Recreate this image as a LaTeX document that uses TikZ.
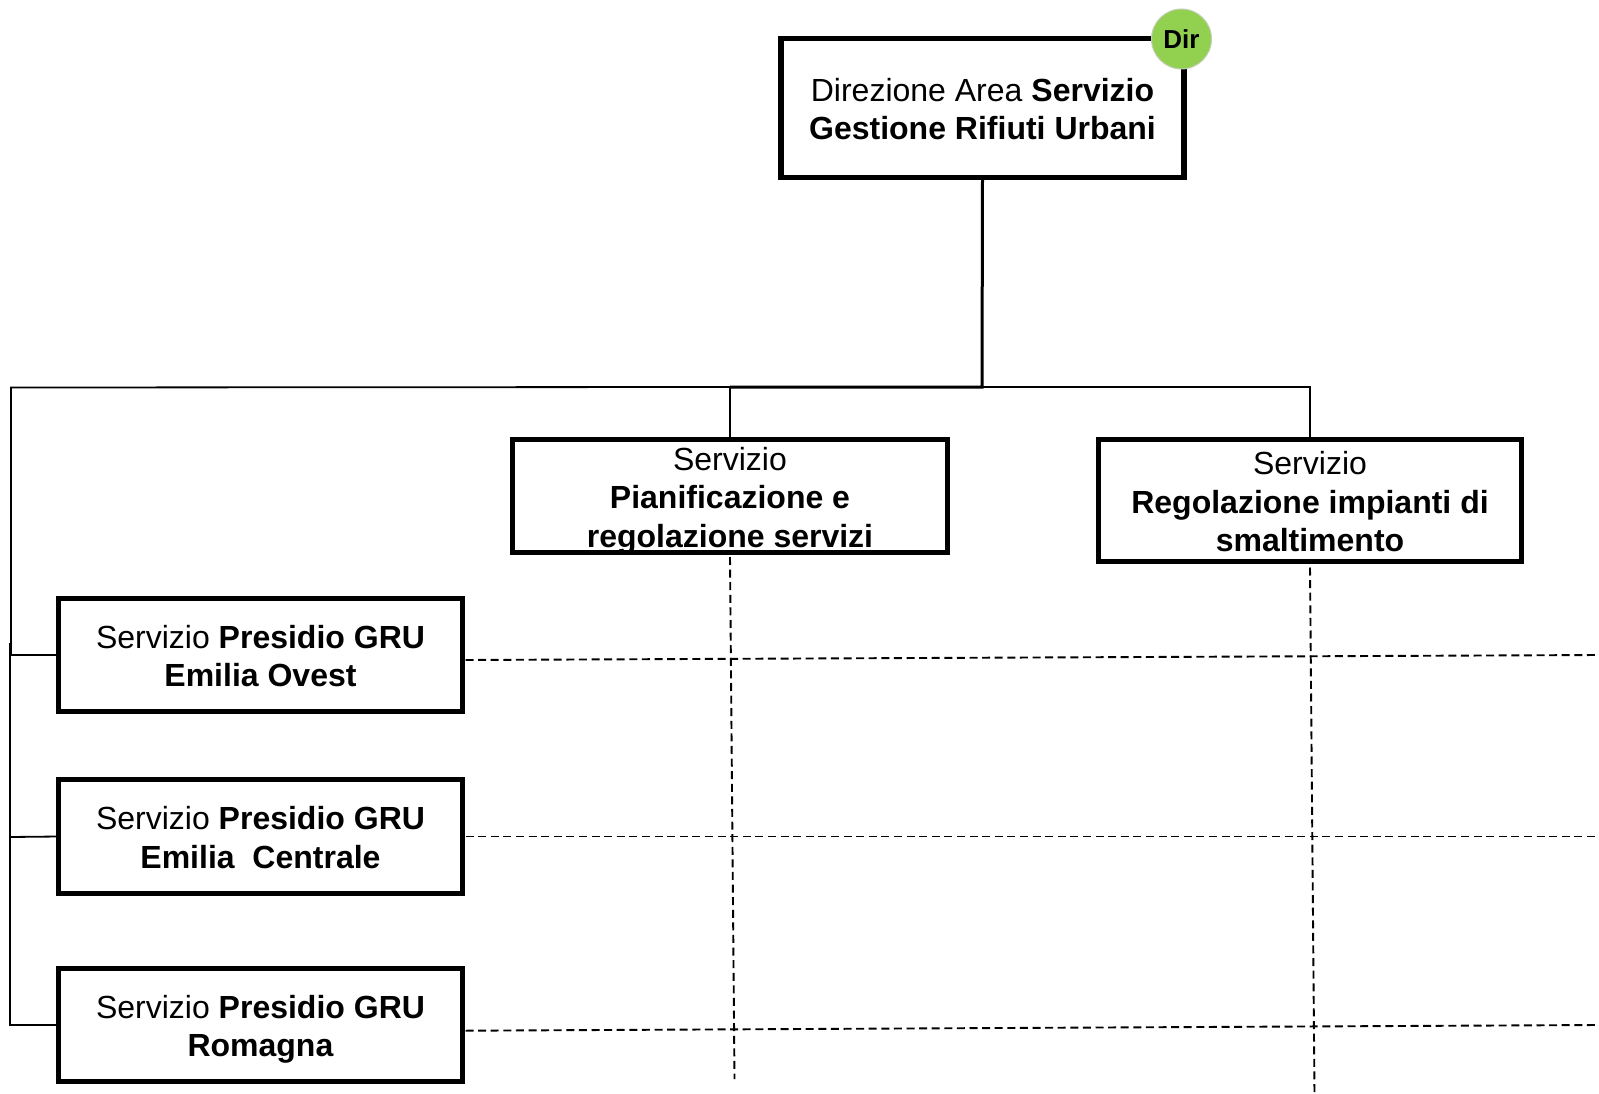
\documentclass[tikz,border=0pt]{standalone}
\usepackage{fontspec}
\setmainfont{Liberation Sans}
\definecolor{dirgreen}{HTML}{92D050}
\definecolor{dirrim}{HTML}{C4CFB8}
\newcommand\boxlines[1]{\begin{tabular}{@{}c@{}}#1\end{tabular}}
\tikzset{
  box/.style={draw=black,line width=5.5pt,fill=white,inner sep=0pt,outer sep=0pt,
    text height=22.4pt,text depth=0pt,
    font=\fontsize{32}{38.4}\selectfont},
  thinline/.style={line width=1.8pt,black},
  thickline/.style={line width=3pt,black},
  dashline/.style={line width=1.9pt,black,dash pattern=on 8pt off 4.6pt},
  badge/.style={circle,fill=dirgreen,draw=dirrim,line width=1pt,minimum size=60pt,inner sep=0pt,
    font=\fontsize{26}{30}\selectfont\bfseries}
}
\begin{document}
\begin{tikzpicture}[x=1pt,y=-1pt]
\useasboundingbox (0,0) rectangle (1599,1094);
\node[box,minimum width=403pt,minimum height=139.4pt] (top) at (982.5,108)
  {\boxlines{Direzione Area \textbf{Servizio}\\\textbf{Gestione Rifiuti Urbani}}};
\node[badge] (dir) at (1181.5,39) {Dir};
\node[box,minimum width=435pt,minimum height=113pt] (pian) at (730,496)
  {\boxlines{Servizio\\\textbf{Pianificazione e}\\\textbf{regolazione servizi}}};
\node[box,minimum width=423pt,minimum height=122pt] (reg) at (1310,500.5)
  {\boxlines{Servizio\\\textbf{Regolazione impianti di}\\\textbf{smaltimento}}};
\node[box,minimum width=404pt,minimum height=113pt] (ovest) at (260.5,655)
  {\boxlines{Servizio \textbf{Presidio GRU}\\\textbf{Emilia Ovest}}};
\node[box,minimum width=404pt,minimum height=114pt] (centr) at (260.5,836.5)
  {\boxlines{Servizio \textbf{Presidio GRU}\\\textbf{Emilia\ \ Centrale}}};
\node[box,minimum width=404pt,minimum height=113pt] (rom) at (260.5,1025)
  {\boxlines{Servizio \textbf{Presidio GRU}\\\textbf{Romagna}}};
\coordinate (hub) at (982,387);
\coordinate (pk) at (730,387);
\coordinate (rk) at (1310,387);
\coordinate (lk) at (11,387.5);
\coordinate (e1) at (1599,655);
\coordinate (e2) at (1599,836.5);
\coordinate (e3) at (1599,1025);
\coordinate (s1) at (734.5,1079);
\coordinate (s2) at (1314.5,1094);
\draw[thickline] (top.south) -- (hub) -- (pk);
\draw[thinline] (hub) -- (rk) -- (reg.north);
\draw[thinline] (pian.north) -- (pk) -- (lk) -- (11,655) -- (ovest.west);
\draw[thinline] (10,643) -- (10,837) -- (centr.west);
\draw[thinline] (10,817) -- (10,1025) -- (rom.west);
\draw[dashline] ([yshift=-4.5pt]pian.south) -- (s1);
\draw[dashline] ([yshift=-6pt]reg.south) -- (s2);
\draw[dashline] ([xshift=3pt,yshift=-5pt]ovest.east) -- (e1);
\draw[dashline] ([xshift=3pt]centr.east) -- (e2);
\draw[dashline] ([xshift=3pt,yshift=-5.7pt]rom.east) -- (e3);
\end{tikzpicture}
\end{document}
